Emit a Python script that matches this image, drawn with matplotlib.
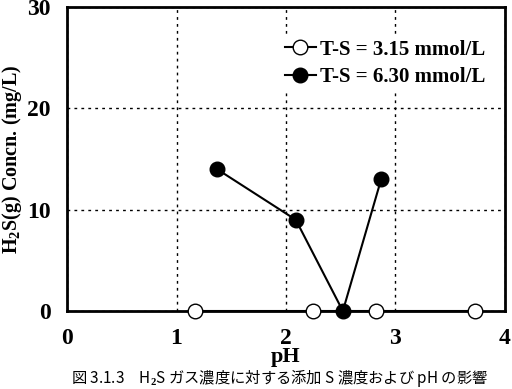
import numpy as np
import matplotlib.pyplot as plt

# データ
ph_low = [1.17, 2.25, 2.82, 3.73]
conc_low = [0, 0, 0, 0]
ph_high = [1.37, 2.09, 2.52, 2.87]
conc_high = [14.0, 9.0, 0, 13.0]
label_low = 'T-S = 3.15 mmol/L'
label_high = 'T-S = 6.30 mmol/L'
caption = '図 3.1.3　H$_2$S ガス濃度に対する添加 S 濃度および pH の影響'

plt.rcParams['font.family'] = ['Liberation Serif', 'Noto Sans CJK JP']
plt.rcParams['font.weight'] = 'bold'
plt.rcParams['mathtext.fontset'] = 'custom'
plt.rcParams['mathtext.rm'] = 'Liberation Serif'
plt.rcParams['mathtext.bf'] = 'Liberation Serif:bold'
plt.rcParams['mathtext.default'] = 'bf'

fig = plt.figure(figsize=(5.12, 3.89), dpi=100)
ax = fig.add_axes([0.131, 0.2005, 0.855, 0.7815])

ax.plot(ph_low, conc_low, '-o', color='black', lw=1.5, ms=10.5,
        mfc='white', mec='black', mew=1.0, label=label_low, clip_on=False, zorder=5)
ax.plot(ph_high, conc_high, '-o', color='black', lw=1.5, ms=10.5,
        mfc='black', mec='black', label=label_high, clip_on=False, zorder=6)

ax.set_xlim(0, 4)
ax.set_ylim(0, 30)
ax.set_xticks([0, 1, 2, 3, 4])
ax.set_yticks([0, 10, 20, 30])
ax.grid(True, color='black', linestyle=(0, (2, 3)), linewidth=1.0)
ax.tick_params(length=0, labelsize=17)
ax.tick_params(axis='x', pad=12)
ax.tick_params(axis='y', pad=12)
for lab in ax.get_xticklabels() + ax.get_yticklabels():
    lab.set_fontweight('bold')
for s in ax.spines.values():
    s.set_linewidth(2)

ax.set_xlabel('pH', fontsize=16, fontweight='bold', labelpad=-1)
ax.set_ylabel('H$_2$S(g) Concn. (mg/L)', fontsize=14.5, fontweight='bold', labelpad=2)

leg = ax.legend(loc='upper right', frameon=True, fontsize=15, handlelength=1.5,
                handletextpad=0.2, labelspacing=0.35, borderaxespad=0.2,
                borderpad=0.2, bbox_to_anchor=(0.975, 0.92))
leg.get_frame().set_edgecolor('none')
leg.get_frame().set_facecolor('white')
leg.get_frame().set_alpha(1)

fig.text(0.545, 0.0, caption, ha='center', va='bottom', fontsize=11,
         family=['Noto Sans CJK JP', 'DejaVu Sans'], fontweight='normal')

fig.savefig('out.png', dpi=100)
